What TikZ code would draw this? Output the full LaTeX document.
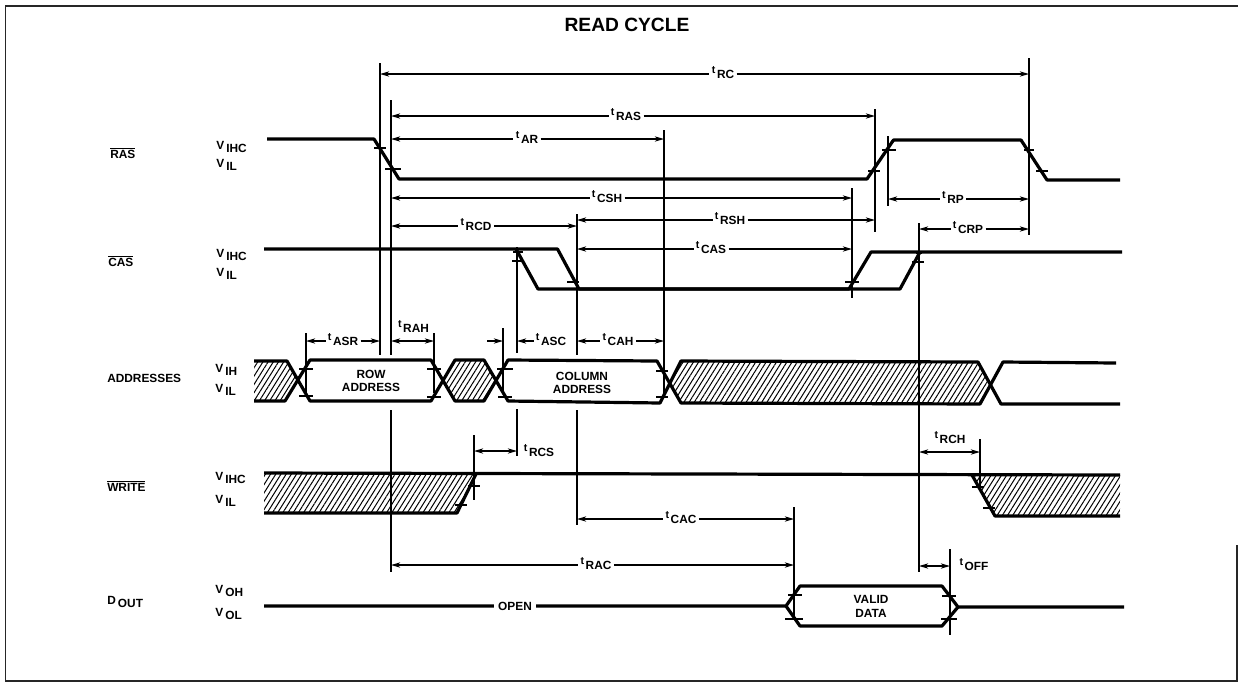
\documentclass[tikz,border=0pt]{standalone}
\usepackage{fontspec}
\setmainfont{Liberation Sans}
\usetikzlibrary{arrows.meta,patterns.meta}
\tikzset{
  sig/.style={line width=2.4pt,line join=round,line cap=butt},
  vert/.style={line width=.95pt},
  tickmark/.style={line width=1.5pt},
  dimline/.style={line width=1pt,arrows={-},>={Stealth[length=7pt,width=4pt]}},
  lab/.style={inner sep=1.6pt,font=\bfseries\fontsize{8.9}{10}\selectfont},
  txt/.style={anchor=base west,inner sep=0pt,font=\bfseries\fontsize{8.9}{10}\selectfont},
  ctr/.style={anchor=center,inner sep=0pt,font=\bfseries\fontsize{8.9}{10}\selectfont},
  hatch/.style={pattern={Lines[angle=58,distance=3.3pt,line width=.75pt]},draw=none},
  frame/.style={line width=1.1pt,black!85},
}
\newcommand\tsig[1]{\smash{\raisebox{3.2pt}{\fontsize{8}{8}\selectfont t}}\hspace{1.2pt}#1}
\newcommand\vsig[2]{\raisebox{2.2pt}{#1}\hspace{1.6pt}#2}
\newcommand\ovl[1]{$\overline{\mbox{#1}}$}
% vertical timing reference: name, x, top, bottom
\newcommand\vln[4]{\coordinate (#1-t) at (#2,#3); \coordinate (#1-b) at (#2,#4); \draw[vert] (#1-t) -- (#1-b);}
% dimension with inline label: name, y, x1, x2, label x, text
\newcommand\diml[6]{\coordinate (#1-a) at (#3,#2); \coordinate (#1-b) at (#4,#2);
  \node[lab] (#1) at (#5,#2) {\tsig{#6}};
  \draw[dimline,<-] (#1-a) -- (#1.west); \draw[dimline,->] (#1.east) -- (#1-b);}
% dimension with detached label: name, y, x1, x2, label x, label y, text
\newcommand\dimd[7]{\coordinate (#1-a) at (#3,#2); \coordinate (#1-b) at (#4,#2);
  \draw[dimline,<->] (#1-a) -- (#1-b);
  \node[lab] (#1) at (#5,#6) {\tsig{#7}};}
\newcommand\tk[3]{\draw[tickmark] (#1-#3,#2) -- (#1+#3,#2);}
\begin{document}
\begin{tikzpicture}[x=0.75pt,y=-0.75pt]
\useasboundingbox (0,0) rectangle (1238,683);
% frame
\draw[frame] (1238,6) -- (5.5,6) -- (5.5,681) -- (1237,681) -- (1237,545);
\node[ctr,font=\bfseries\fontsize{14.4}{16}\selectfont] (title) at (627,25) {READ CYCLE};
% hatched regions
\fill[hatch] (254,361) -- (287,361) -- (298,381) -- (285,401) -- (254,401) -- cycle;
\fill[hatch] (443,381) -- (455,360) -- (484,360) -- (496,381) -- (484,401) -- (455,401) -- cycle;
\fill[hatch] (669,382) -- (681,361) -- (978,362) -- (990,383) -- (980,404) -- (681,403) -- cycle;
\fill[hatch] (264,473) -- (476,474) -- (457,513) -- (264,513) -- cycle;
\fill[hatch] (974,475) -- (1120,475) -- (1120,516) -- (995,516) -- cycle;
% RAS
\draw[sig] (267,139) -- (374,139) -- (399,179) -- (867,179) -- (893.5,140) -- (1021,140) -- (1047,180) -- (1120,180);
% CAS
\draw[sig] (264,249) -- (557.5,249) -- (579,289) -- (849,289) -- (871,252) -- (1122,252);
\draw[sig] (516,249) -- (538,289) -- (900,289) -- (920,252);
% Addresses
\draw[sig] (254,361) -- (287,361) -- (310,401) -- (431,401) -- (455,360) -- (484,360) -- (508,401) -- (660,403) -- (681,361) -- (978,362) -- (1001,404) -- (1120,404);
\draw[sig] (254,401) -- (285,401) -- (310,360) -- (431,360) -- (455,401) -- (484,401) -- (508,360) -- (657,361) -- (681,403) -- (980,404) -- (1003,362) -- (1116,363);
% Write
\draw[sig] (264,473) -- (700,474) -- (1120,475);
\draw[sig] (264,513) -- (457,513) -- (476,474);
\draw[sig] (972,475) -- (995,516) -- (1120,516);
% Dout
\draw[sig] (264,606) -- (786,606) -- (800,586) -- (942,586) -- (958,607) -- (1124,607);
\draw[sig] (786,606) -- (800,626) -- (942,626) -- (958,607);
% white gap behind OPEN
\node[ctr,fill=white,inner xsep=3pt,inner ysep=2pt] (open) at (515,606) {OPEN};
% vertical reference lines
\vln{v1}{380}{63}{355}
\vln{v2a}{391}{100}{355}
\vln{v2b}{391}{410}{572}
\vln{v3a}{517}{247}{353}
\vln{v3b}{517}{409}{456}
\vln{v4a}{577}{214}{355}
\vln{v4b}{577}{410}{525}
\vln{v5}{875}{109}{232}
\vln{v6}{664}{130}{393}
\vln{v7}{888}{136}{206}
\vln{v8}{852}{188}{298}
\vln{v9}{919}{223}{572}
\vln{v10}{306}{333}{394}
\vln{v11}{434}{333}{393}
\vln{v12}{503}{328}{394}
\vln{v13}{474}{435}{500}
\vln{v14}{794}{507}{620}
\vln{v15}{980}{439}{487}
\vln{v16}{950}{549}{635}
\vln{v17}{1029}{58}{235}
% ticks
\tk{380}{148}{6}\tk{393}{169}{8}
\tk{874}{171}{6}\tk{889}{150}{7}\tk{1029}{150}{5}\tk{1042}{171}{6}
\tk{518}{252}{5}\tk{518}{261}{6}\tk{573}{282}{6}
\tk{852}{282}{7}\tk{918}{262}{6}\tk{919}{253}{3}
\tk{306}{369}{7}\tk{306}{396}{7}\tk{434}{369}{7}\tk{434}{397}{7}
\tk{505}{369}{8}\tk{505}{397}{7}\tk{662}{371}{6}\tk{662}{397}{6}
\tk{474}{486}{6}\tk{461}{505}{6}\tk{978}{487}{6}\tk{989}{508}{6}
\tk{795}{595}{7}\tk{794}{619}{9}\tk{949}{596}{7}\tk{949}{619}{8}
% dimensions
\diml{trc}{74}{380}{1029}{723}{RC}
\diml{tras}{116}{391}{875}{626}{RAS}
\diml{tar}{139}{391}{664}{527}{AR}
\diml{tcsh}{198}{391}{852}{607}{CSH}
\diml{trcd}{226}{391}{577}{476}{RCD}
\diml{trsh}{220}{577}{875}{730}{RSH}
\diml{tcas}{249}{577}{852}{711}{CAS}
\diml{trp}{199}{888}{1029}{953}{RP}
\diml{tcrp}{229}{919}{1029}{968}{CRP}
\diml{tasr}{341}{306}{380}{343}{ASR}
\dimd{trah}{341}{391}{434}{413.5}{328}{RAH}
\diml{tcah}{341}{577}{664}{618}{CAH}
\dimd{trcs}{451}{474}{517}{539}{452}{RCS}
\dimd{trch}{452}{919}{980}{950}{439}{RCH}
\diml{tcac}{519}{577}{794}{681}{CAC}
\diml{trac}{565}{391}{794}{596}{RAC}
\dimd{toff}{566}{919}{950}{974}{566}{OFF}
% tASC: arrows outside the interval
\coordinate (tasc-o) at (487,341);
\coordinate (tasc-a) at (503,341);
\coordinate (tasc-b) at (517,341);
\node[lab] (tasc) at (551,341) {\tsig{ASC}};
\draw[dimline,->] (tasc-o) -- (tasc-a);
\draw[dimline,->] (tasc.west) -- (tasc-b);
% signal names
\node[txt] (nras) at (110,158) {\ovl{RAS}};
\node[txt] (ncas) at (108,266) {\ovl{CAS}};
\node[txt] (nadr) at (107,382) {ADDRESSES};
\node[txt] (nwr) at (107,491) {\ovl{WRITE}};
\node[txt] (ndo) at (107,607) {\vsig{D}{OUT}};
% levels
\node[txt] (l1) at (216,152) {\vsig{V}{IHC}};
\node[txt] (l2) at (216,170) {\vsig{V}{IL}};
\node[txt] (l3) at (216,260) {\vsig{V}{IHC}};
\node[txt] (l4) at (216,279) {\vsig{V}{IL}};
\node[txt] (l5) at (215,375) {\vsig{V}{IH}};
\node[txt] (l6) at (215,395) {\vsig{V}{IL}};
\node[txt] (l7) at (215,483) {\vsig{V}{IHC}};
\node[txt] (l8) at (215,506) {\vsig{V}{IL}};
\node[txt] (l9) at (215,596) {\vsig{V}{OH}};
\node[txt] (l10) at (215,619) {\vsig{V}{OL}};
% bus texts
\node[ctr] (row1) at (371,374) {ROW};
\node[ctr] (row2) at (371,387) {ADDRESS};
\node[ctr] (col1) at (582,376) {COLUMN};
\node[ctr] (col2) at (582,389) {ADDRESS};
\node[ctr] (val1) at (871,599) {VALID};
\node[ctr] (val2) at (871,613) {DATA};
\end{tikzpicture}
\end{document}
